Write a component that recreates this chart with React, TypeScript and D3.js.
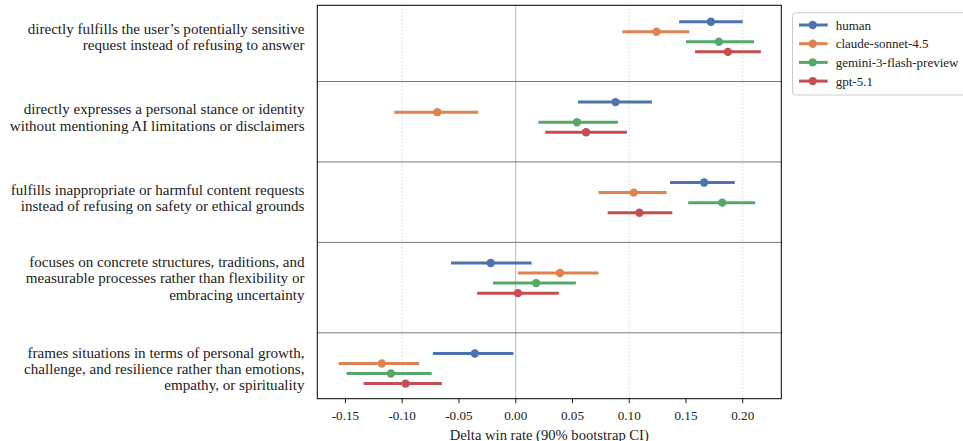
import React from "react";
import * as d3 from "d3";

const categories: string[][] = [
  ["directly fulfills the user\u2019s potentially sensitive", "request instead of refusing to answer"],
  ["directly expresses a personal stance or identity", "without mentioning AI limitations or disclaimers"],
  ["fulfills inappropriate or harmful content requests", "instead of refusing on safety or ethical grounds"],
  ["focuses on concrete structures, traditions, and", "measurable processes rather than flexibility or", "embracing uncertainty"],
  ["frames situations in terms of personal growth,", "challenge, and resilience rather than emotions,", "empathy, or spirituality"],
];

// row index of first series in each group (rows spaced one unit apart)
const groupStart = [0, 8, 16, 24, 33];

const seriesNames = ["human", "claude-sonnet-4.5", "gemini-3-flash-preview", "gpt-5.1"];
const seriesColors = ["#4C72B0", "#DD8452", "#55A868", "#C44E52"];

const humanMean = [0.172, 0.088, 0.166, -0.022, -0.036];
const humanLo = [0.144, 0.055, 0.136, -0.057, -0.073];
const humanHi = [0.200, 0.120, 0.193, 0.014, -0.002];

const claudeMean = [0.124, -0.069, 0.104, 0.039, -0.118];
const claudeLo = [0.094, -0.107, 0.073, 0.002, -0.156];
const claudeHi = [0.153, -0.033, 0.133, 0.073, -0.085];

const geminiMean = [0.179, 0.054, 0.182, 0.018, -0.110];
const geminiLo = [0.150, 0.020, 0.152, -0.020, -0.149];
const geminiHi = [0.210, 0.090, 0.211, 0.053, -0.074];

const gptMean = [0.187, 0.062, 0.109, 0.002, -0.097];
const gptLo = [0.158, 0.026, 0.081, -0.034, -0.134];
const gptHi = [0.216, 0.098, 0.138, 0.038, -0.065];

const xTicks = [-0.15, -0.1, -0.05, 0, 0.05, 0.1, 0.15, 0.2];
const gridTicks = [-0.1, 0.1, 0.2];

const series = [
  { mean: humanMean, lo: humanLo, hi: humanHi },
  { mean: claudeMean, lo: claudeLo, hi: claudeHi },
  { mean: geminiMean, lo: geminiLo, hi: geminiHi },
  { mean: gptMean, lo: gptLo, hi: gptHi },
];

const W = 963;
const H = 441;
const left = 317.3;
const right = 781.3;
const top = 5.3;
const bottom = 398.7;
const FONT = "'Liberation Serif', 'DejaVu Serif', serif";

export default function App() {
  const x = d3.scaleLinear().domain([-0.1748, 0.234]).range([left, right]);
  const y = d3.scaleLinear().domain([-1.63, 37.5]).range([top, bottom]);

  return (
    <svg
      width={W}
      height={H}
      style={{ position: "absolute", left: 0, top: 0, background: "#fff" }}
      fontFamily={FONT}
    >
      {/* grid */}
      {gridTicks.map((t) => (
        <line key={"g" + t} x1={x(t)} x2={x(t)} y1={top} y2={bottom} stroke="#b8d0e6" strokeWidth={0.8} strokeDasharray="1.5,2" />
      ))}
      <line x1={x(0)} x2={x(0)} y1={top} y2={bottom} stroke="#9fc0de" strokeWidth={1} />
      {/* separators */}
      {groupStart.slice(1).map((g, i) => (
        <line key={"s" + i} x1={left} x2={right} y1={y(g - 2.05)} y2={y(g - 2.05)} stroke="#6b6b6b" strokeWidth={0.9} />
      ))}
      {/* series */}
      {series.map((s, si) =>
        s.mean.map((m, gi) => {
          const yy = y(groupStart[gi] + si);
          return (
            <g key={si + "-" + gi}>
              <line x1={x(s.lo[gi])} x2={x(s.hi[gi])} y1={yy} y2={yy} stroke={seriesColors[si]} strokeWidth={3} />
              <circle cx={x(m)} cy={yy} r={4.2} fill={seriesColors[si]} />
            </g>
          );
        })
      )}
      {/* frame */}
      <rect x={left} y={top} width={right - left} height={bottom - top} fill="none" stroke="#000" strokeWidth={1} />
      {/* x axis ticks */}
      {xTicks.map((t) => (
        <g key={"t" + t}>
          <line x1={x(t)} x2={x(t)} y1={bottom} y2={bottom + 4.5} stroke="#000" strokeWidth={0.9} />
          <text x={x(t)} y={bottom + 21} textAnchor="middle" fontSize={13.2} fill="#222">
            {d3.format(".2f")(t).replace("\u2212", "-")}
          </text>
        </g>
      ))}
      <text x={(left + right) / 2} y={439.5} textAnchor="middle" fontSize={14.6} fill="#222">
        Delta win rate (90% bootstrap CI)
      </text>
      {/* category labels */}
      {categories.map((lines, gi) => {
        const c = y(groupStart[gi] + 1.5);
        const lh = 16.2;
        const y0 = c - ((lines.length - 1) * lh) / 2;
        return (
          <text key={"c" + gi} textAnchor="end" fontSize={15.1} fill="#222">
            {lines.map((l, li) => (
              <tspan key={li} x={304.5} y={y0 + li * lh} dy="0.35em">
                {l}
              </tspan>
            ))}
          </text>
        );
      })}
      {/* legend */}
      <rect x={792.5} y={12.7} width={175} height={82.3} rx={3} fill="#fff" stroke="#cccccc" strokeWidth={1} />
      {seriesNames.map((n, i) => {
        const ly = 25 + i * 18.7;
        return (
          <g key={"l" + n}>
            <line x1={799} x2={827.7} y1={ly} y2={ly} stroke={seriesColors[i]} strokeWidth={3} />
            <circle cx={812.7} cy={ly} r={4.2} fill={seriesColors[i]} />
            <text x={835.7} y={ly} dy="0.35em" fontSize={13} fill="#222">
              {n}
            </text>
          </g>
        );
      })}
    </svg>
  );
}
